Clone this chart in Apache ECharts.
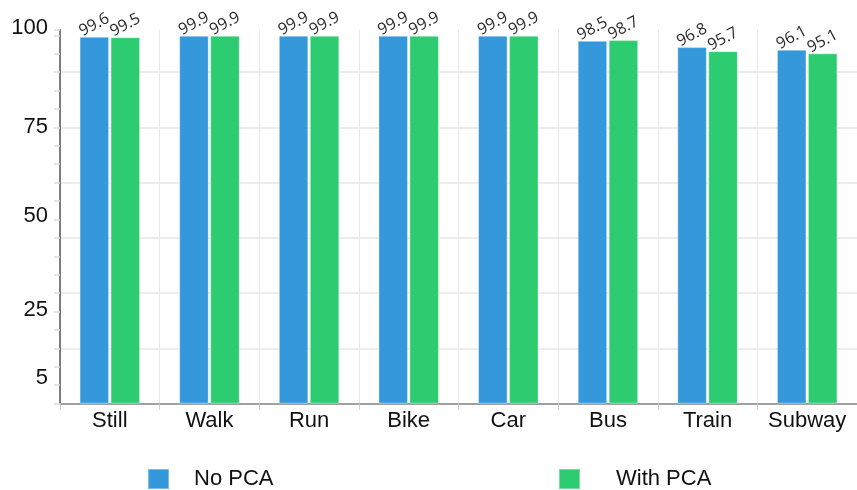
<!DOCTYPE html>
<html>
<head>
<meta charset="utf-8">
<script src="https://cdn.jsdelivr.net/npm/echarts@6/dist/echarts.min.js"></script>
<style>
html,body{margin:0;padding:0;background:#fff;}
#chart{width:857px;height:490px;}
</style>
</head>
<body>
<div id="chart"></div>
<script>
var categories = ['Still', 'Walk', 'Run', 'Bike', 'Car', 'Bus', 'Train', 'Subway'];
var noPca = [99.6, 99.9, 99.9, 99.9, 99.9, 98.5, 96.8, 96.1];
var withPca = [99.5, 99.9, 99.9, 99.9, 99.9, 98.7, 95.7, 95.1];
var seriesNames = ['No PCA', 'With PCA'];
var yTickLabels = [100, 75, 50, 25, 5];

var chart = echarts.init(document.getElementById('chart'));
var labelShift = {100: 'u7', 75: 'u0', 50: 'u3', 25: 'u1', 5: 'u7'};
var valueLabel = {show: true, position: 'top', distance: 12, rotate: 28, align: 'center', verticalAlign: 'middle',
                  fontSize: 16, color: '#2a2a2a', fontFamily: 'Open Sans, sans-serif'};
var option = {
  animation: false,
  textStyle: {fontFamily: 'Liberation Sans, Arial, sans-serif'},
  grid: {left: 60, right: 0, top: 29.8, bottom: 86.4, containLabel: false},
  legend: [
    {data: [seriesNames[0]], left: 147, top: 468, padding: 0, itemWidth: 21, itemHeight: 20, icon: 'rect',
     textStyle: {fontSize: 22, color: '#111', padding: [0, 0, 0, 20]}},
    {data: [seriesNames[1]], left: 558, top: 468, padding: 0, itemWidth: 21, itemHeight: 20, icon: 'rect',
     textStyle: {fontSize: 22, color: '#111', padding: [0, 0, 0, 31]}}
  ],
  xAxis: {
    type: 'category',
    data: categories,
    boundaryGap: true,
    axisLine: {show: true, lineStyle: {color: '#a0a0a0', width: 2}},
    axisTick: {show: true, interval: 0, length: 6, lineStyle: {color: '#d0d0d0'}},
    splitLine: {show: true, interval: 0, lineStyle: {color: '#e8e8e8', width: 1}},
    axisLabel: {interval: 0, fontSize: 22, color: '#111', margin: 6}
  },
  yAxis: [
    {
      type: 'value', min: 0, max: 101.5, interval: 15,
      axisLine: {show: true, lineStyle: {color: '#555', width: 1.5}},
      axisTick: {show: false},
      axisLabel: {show: false},
      splitLine: {show: true, showMaxLine: false, showMinLine: false, lineStyle: {color: '#e6e6e6', width: 1.5}}
    },
    {
      type: 'value', min: 0, max: 101.5, interval: 5, position: 'left',
      axisLine: {show: false},
      axisTick: {show: true, length: 6, lineStyle: {color: '#dcdcdc', width: 1.5}},
      splitLine: {show: false},
      axisLabel: {
        margin: 12,
        fontSize: 22,
        color: '#111',
        formatter: function (v) {
          if (yTickLabels.indexOf(v) >= 0) {
            return '{' + labelShift[v] + '|' + v + '}';
          }
          return '';
        },
        rich: {
          u0: {fontSize: 22, color: '#111'},
          u1: {fontSize: 22, color: '#111', padding: [0, 0, 3, 0]},
          u3: {fontSize: 22, color: '#111', padding: [0, 0, 7, 0]},
          u7: {fontSize: 22, color: '#111', padding: [0, 0, 14, 0]}
        }
      }
    }
  ],
  series: [
    {
      name: seriesNames[0], type: 'bar', yAxisIndex: 0, data: noPca,
      barWidth: 29.5, barGap: '5%',
      itemStyle: {color: '#3498db', borderColor: 'rgba(255,255,255,0.35)', borderWidth: 1},
      label: valueLabel
    },
    {
      name: seriesNames[1], type: 'bar', yAxisIndex: 0, data: withPca,
      barWidth: 29.5, barGap: '5%',
      itemStyle: {color: '#2ecc71', borderColor: 'rgba(255,255,255,0.35)', borderWidth: 1},
      label: valueLabel
    }
  ]
};
chart.setOption(option);
</script>
</body>
</html>
